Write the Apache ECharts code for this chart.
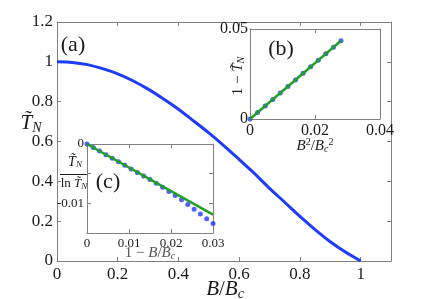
<!DOCTYPE html>
<html><head><meta charset="utf-8">
<script src="https://cdn.jsdelivr.net/npm/echarts@6/dist/echarts.min.js"></script>
<style>html,body{margin:0;padding:0;background:#fff}#c{width:432px;height:299px}</style>
</head><body><div id="c"></div>
<script>
// Main panel (a): T_N vs B/Bc
const mainB = [0, 0.05, 0.1, 0.15, 0.2, 0.25, 0.3, 0.35, 0.4, 0.45, 0.5, 0.55, 0.6, 0.65, 0.7, 0.75, 0.8, 0.85, 0.9, 0.95, 1.0];
const mainT = [1.0, 0.997, 0.986, 0.966, 0.940, 0.905, 0.863, 0.815, 0.762, 0.703, 0.643, 0.578, 0.510, 0.440, 0.365, 0.295, 0.224, 0.158, 0.097, 0.045, 0.0];
const mainXTicks = [0, 0.2, 0.4, 0.6, 0.8, 1];
const mainYTicks = [0, 0.2, 0.4, 0.6, 0.8, 1, 1.2];
// Inset (b): 1 - T_N vs B^2/Bc^2
const bX = [0, 0.00233, 0.00467, 0.007, 0.00933, 0.01167, 0.014, 0.01633, 0.01867, 0.021, 0.02333, 0.02567, 0.028];
const bY = [0, 0.0036, 0.0072, 0.0109, 0.0145, 0.0181, 0.0217, 0.0254, 0.029, 0.0326, 0.0362, 0.0399, 0.0435];
const bFitX = [0, 0.028];
const bFitY = [0, 0.0435];
// Inset (c): T_N / ln T_N vs 1 - B/Bc
const cX = [0, 0.0015, 0.003, 0.0045, 0.006, 0.0075, 0.009, 0.0105, 0.012, 0.0135, 0.015, 0.0165, 0.018, 0.0195, 0.021, 0.0225, 0.024, 0.0255, 0.027, 0.0285, 0.03];
const cY = [0, -0.0006, -0.0012, -0.0018, -0.0024, -0.0030, -0.0036, -0.0042, -0.0048, -0.0054, -0.0060, -0.0066, -0.0073, -0.0080, -0.0087, -0.0094, -0.0102, -0.0110, -0.0118, -0.0126, -0.0134];
const cFitX = [0, 0.03];
const cFitY = [0, -0.0119];

const FONT = 'Liberation Serif, serif';
const AX = '#808080';
const TXT = '#1a1a1a';
const BLUE = '#1f3bff';
const GREEN = '#23a023';

function rnd(v){ return Math.round(v*100000)/100000; }
function mkFmt(list){ return v => { const r = rnd(v); return list.some(t => Math.abs(t - r) < 1e-9) ? String(r) : ''; }; }

function axis(type, grid, min, max, interval, pos, labels, fs, margin) {
  return {
    type: 'value', gridIndex: grid, min, max, interval, position: pos,
    axisLine: { show: true, onZero: false, lineStyle: { color: AX, width: 1 } },
    axisTick: { show: true, inside: true, length: 4, lineStyle: { color: AX } },
    splitLine: { show: false },
    axisLabel: labels ? { show: true, fontFamily: FONT, fontSize: fs, color: TXT, margin, formatter: mkFmt(labels), showMaxLabel: true, showMinLabel: true } : { show: false }
  };
}

const zip = (a, b) => a.map((v, i) => [v, b[i]]);

const chart = echarts.init(document.getElementById('c'), null, { renderer: 'canvas' });
chart.setOption({
  animation: false,
  backgroundColor: '#fff',
  grid: [
    { left: 57, top: 22, width: 334, height: 239, outerBoundsMode: 'none', show: false },
    { left: 250, top: 29, width: 130, height: 90, outerBoundsMode: 'none', show: true, backgroundColor: '#fff', borderWidth: 0 },
    { left: 87, top: 144, width: 126, height: 89, outerBoundsMode: 'none', show: true, backgroundColor: '#fff', borderWidth: 0 }
  ],
  xAxis: [
    axis('x', 0, 0, 1.1, 0.2, 'bottom', mainXTicks, 17, 5),
    axis('x', 0, 0, 1.1, 0.2, 'top', null),
    axis('x', 1, 0, 0.04, 0.02, 'bottom', [0, 0.02, 0.04], 16, 4),
    axis('x', 1, 0, 0.04, 0.02, 'top', null),
    axis('x', 2, 0, 0.03, 0.01, 'bottom', [0, 0.01, 0.02, 0.03], 13, 4),
    axis('x', 2, 0, 0.03, 0.01, 'top', null)
  ],
  yAxis: [
    axis('y', 0, 0, 1.2, 0.2, 'left', mainYTicks, 17, 4),
    axis('y', 0, 0, 1.2, 0.2, 'right', null),
    axis('y', 1, 0, 0.05, 0.05, 'left', [0, 0.05], 16, 2),
    axis('y', 1, 0, 0.05, 0.05, 'right', null),
    axis('y', 2, -0.015, 0, 0.005, 'left', [0, -0.01], 13, 3),
    axis('y', 2, -0.015, 0, 0.005, 'right', null)
  ],
  series: [
    { type: 'line', xAxisIndex: 0, yAxisIndex: 0, data: zip(mainB, mainT), showSymbol: false, smooth: 0.3,
      lineStyle: { color: BLUE, width: 3 }, z: 3 },
    { type: 'scatter', xAxisIndex: 2, yAxisIndex: 2, data: zip(bX, bY), symbolSize: 5, itemStyle: { color: BLUE }, z: 4 },
    { type: 'line', xAxisIndex: 2, yAxisIndex: 2, data: zip(bFitX, bFitY), showSymbol: false, lineStyle: { color: GREEN, width: 2.5 }, z: 5 },
    { type: 'scatter', xAxisIndex: 4, yAxisIndex: 4, data: zip(cX, cY), symbolSize: 5, itemStyle: { color: BLUE }, z: 4 },
    { type: 'line', xAxisIndex: 4, yAxisIndex: 4, data: zip(cFitX, cFitY), showSymbol: false, lineStyle: { color: GREEN, width: 2.5 }, z: 5 }
  ],
  graphic: [
    { type: 'text', x: 73, y: 45, z: 10, style: { text: '(a)', font: '22px ' + FONT, fill: TXT, align: 'center', verticalAlign: 'middle' } },
    { type: 'text', x: 281, y: 49, z: 10, style: { text: '(b)', font: '22px ' + FONT, fill: TXT, align: 'center', verticalAlign: 'middle' } },
    { type: 'text', x: 108, y: 182, z: 10, style: { text: '(c)', font: '22px ' + FONT, fill: TXT, align: 'center', verticalAlign: 'middle' } },
    // main axis titles
    { type: 'text', x: 225, y: 289, z: 10, style: { text: '{i|B}{n|/}{i|B}{s|c}', align: 'center', verticalAlign: 'middle', fill: TXT,
        rich: { i: { fontFamily: FONT, fontStyle: 'italic', fontSize: 21, fill: TXT }, n: { fontFamily: FONT, fontSize: 21, fill: TXT }, s: { fontFamily: FONT, fontStyle: 'italic', fontSize: 14, fill: TXT, padding: [10, 0, 0, 0] } } } },
    { type: 'text', x: 31, y: 123, z: 10, style: { text: '{i|T\u0303}{s|N}', align: 'center', verticalAlign: 'middle', fill: TXT,
        rich: { i: { fontFamily: FONT, fontStyle: 'italic', fontSize: 21, fill: TXT }, s: { fontFamily: FONT, fontStyle: 'italic', fontSize: 14, fill: TXT, padding: [10, 0, 0, 0] } } } },
    // inset (b) titles
    { type: 'text', x: 315, y: 146, z: 10, style: { text: '{i|B}{p|2}{n|/}{i|B}{s|c}{p|2}', align: 'center', verticalAlign: 'middle', fill: TXT,
        rich: { i: { fontFamily: FONT, fontStyle: 'italic', fontSize: 15, fill: TXT }, n: { fontFamily: FONT, fontSize: 15, fill: TXT }, p: { fontFamily: FONT, fontSize: 10, fill: TXT, padding: [0, 0, 8, 0] }, s: { fontFamily: FONT, fontStyle: 'italic', fontSize: 10, fill: TXT, padding: [7, 0, 0, 0] } } } },
    { type: 'text', x: 238, y: 76, z: 10, rotation: Math.PI / 2, style: { text: '{n|1 \u2212 }{i|T\u0303}{s|N}', align: 'center', verticalAlign: 'middle', fill: TXT,
        rich: { i: { fontFamily: FONT, fontStyle: 'italic', fontSize: 15, fill: TXT }, n: { fontFamily: FONT, fontSize: 15, fill: TXT }, s: { fontFamily: FONT, fontStyle: 'italic', fontSize: 10, fill: TXT, padding: [7, 0, 0, 0] } } } },
    // inset (c) titles
    { type: 'text', x: 150, y: 253, z: 10, style: { text: '{n|1 \u2212 }{i|B}{n|/}{i|B}{s|c}', align: 'center', verticalAlign: 'middle', fill: '#555',
        rich: { i: { fontFamily: FONT, fontStyle: 'italic', fontSize: 15, fill: '#555' }, n: { fontFamily: FONT, fontSize: 15, fill: '#555' }, s: { fontFamily: FONT, fontStyle: 'italic', fontSize: 10, fill: '#555', padding: [7, 0, 0, 0] } } } },
    { type: 'text', x: 75, y: 162, z: 10, style: { text: '{i|T\u0303}{s|N}', align: 'center', verticalAlign: 'middle', fill: TXT,
        rich: { i: { fontFamily: FONT, fontStyle: 'italic', fontSize: 14, fill: TXT }, s: { fontFamily: FONT, fontStyle: 'italic', fontSize: 9, fill: TXT, padding: [6, 0, 0, 0] } } } },
    { type: 'line', z: 10, shape: { x1: 60, y1: 174.5, x2: 87, y2: 174.5 }, style: { stroke: TXT, lineWidth: 1 } },
    { type: 'text', x: 74, y: 184, z: 10, style: { text: '{n|ln }{i|T\u0303}{s|N}', align: 'center', verticalAlign: 'middle', fill: TXT,
        rich: { i: { fontFamily: FONT, fontStyle: 'italic', fontSize: 13, fill: TXT }, n: { fontFamily: FONT, fontSize: 13, fill: TXT }, s: { fontFamily: FONT, fontStyle: 'italic', fontSize: 9, fill: TXT, padding: [6, 0, 0, 0] } } } }
  ]
});
</script>
</body></html>
